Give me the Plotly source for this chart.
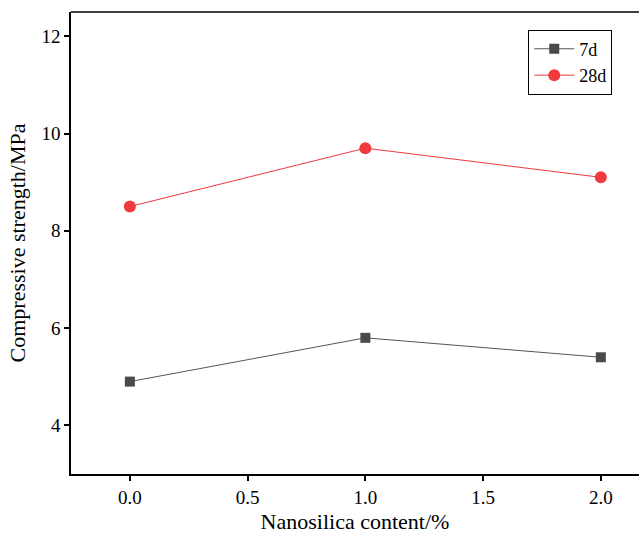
import plotly.graph_objects as go

content = [0.0, 1.0, 2.0]
strength_7d = [4.9, 5.8, 5.4]
strength_28d = [8.5, 9.7, 9.1]
x_ticks = [0.0, 0.5, 1.0, 1.5, 2.0]
x_tick_labels = ["0.0", "0.5", "1.0", "1.5", "2.0"]
y_ticks = [4, 6, 8, 10, 12]

font = "Liberation Serif"

fig = go.Figure()
fig.add_trace(go.Scatter(
    x=content, y=strength_7d, name="7d", mode="lines+markers",
    line=dict(color="#555555", width=1),
    marker=dict(symbol="square", size=10, color="#4a4a4a"),
))
fig.add_trace(go.Scatter(
    x=content, y=strength_28d, name="28d", mode="lines+markers",
    line=dict(color="#f03a3d", width=1),
    marker=dict(symbol="circle", size=12, color="#f03a3d"),
))

fig.update_layout(
    width=639, height=534,
    margin=dict(l=71, r=0, t=12, b=60),
    paper_bgcolor="white", plot_bgcolor="white",
    font=dict(family=font, color="black"),
    showlegend=True,
    legend=dict(
        x=0.805, y=0.962, xanchor="left", yanchor="top",
        bordercolor="black", borderwidth=1, bgcolor="white",
        font=dict(family=font, size=18), tracegroupgap=0,
        itemwidth=40,
    ),
    xaxis=dict(
        range=[-0.25, 2.162], tickvals=x_ticks, ticktext=x_tick_labels,
        showgrid=False, zeroline=False,
        showline=True, linecolor="black", linewidth=1.5,
        ticks="outside", ticklen=5, tickwidth=1.5, tickcolor="black",
        tickfont=dict(family=font, size=19),
        title=dict(text="Nanosilica content/%", font=dict(family=font, size=22), standoff=8),
    ),
    yaxis=dict(
        range=[3, 12.5], tickvals=y_ticks,
        showgrid=False, zeroline=False,
        showline=True, linecolor="black", linewidth=1.5,
        ticks="outside", ticklen=5, tickwidth=1.5, tickcolor="black",
        tickfont=dict(family=font, size=19),
        title=dict(text="Compressive strength/MPa", font=dict(family=font, size=22), standoff=10),
    ),
    shapes=[dict(type="line", xref="paper", yref="paper", x0=0, x1=1, y0=1, y1=1,
                 line=dict(color="black", width=1.5))],
)

fig.write_html("out.html", config={"displayModeBar": False},
               post_script="document.body.style.margin='0';document.body.style.overflow='hidden';")
